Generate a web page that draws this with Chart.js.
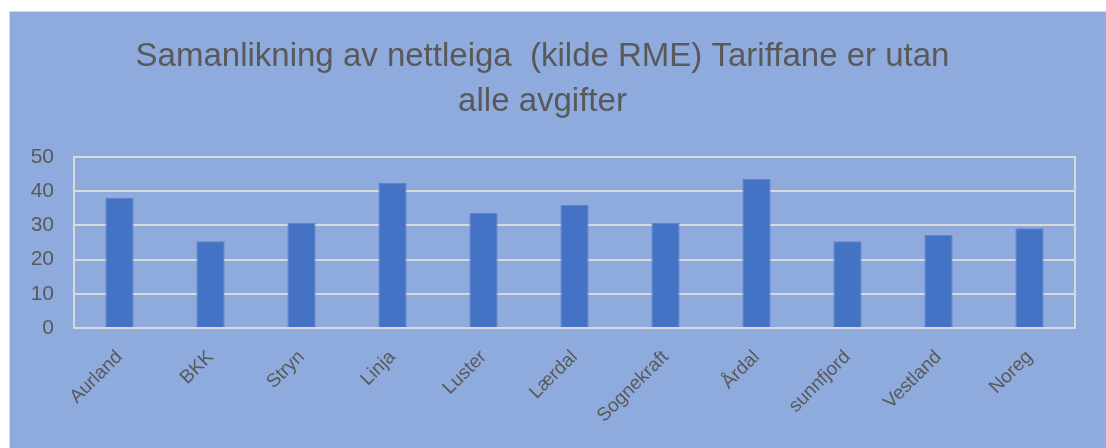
<!DOCTYPE html>
<html>
<head>
<meta charset="utf-8">
<script src="https://cdn.jsdelivr.net/npm/chart.js@4.4.1/dist/chart.umd.min.js"></script>
<style>
    body { margin: 0; background: #ffffff; }
    #wrap {
        position: absolute; left: 9px; top: 11px; width: 1097px; height: 437px;
        background: #8faadc; border-left: 1px solid #d9d9d9; border-top: 1px solid #d9d9d9;
        box-sizing: border-box;
    }
    #box { position: absolute; left: 0; top: 0; width: 1072px; height: 436px; }
</style>
</head>
<body>
<div id="wrap"><div id="box"><canvas id="nettleigeChart"></canvas></div></div>
<script>
const categories = ["Aurland", "BKK", "Stryn", "Linja", "Luster", "Lærdal", "Sognekraft", "Årdal", "sunnfjord", "Vestland", "Noreg"];
const tariffValues = [38.1, 25.4, 30.7, 42.4, 33.6, 36.0, 30.7, 43.6, 25.4, 27.2, 29.2];
const titleLines = ["Samanlikning av nettleiga  (kilde RME) Tariffane er utan", "alle avgifter"];

const FONT = "'Liberation Sans', Arial, sans-serif";
const TEXT = "#595959";
const GRID = "#d9d9d9";

// outline round the plot area
const plotBorder = {
    id: "plotBorder",
    afterDatasetsDraw(chart) {
        const a = chart.chartArea;
        const ctx = chart.ctx;
        ctx.save();
        ctx.strokeStyle = GRID;
        ctx.lineWidth = 2;
        ctx.strokeRect(a.left, a.top, a.right - a.left, a.bottom - a.top);
        ctx.restore();
    }
};

new Chart(document.getElementById("nettleigeChart"), {
    type: "bar",
    data: {
        labels: categories,
        datasets: [{
            label: "Nettleige",
            data: tariffValues,
            backgroundColor: "#4472c4",
            borderColor: "#5b84cc",
            borderWidth: 1,
            categoryPercentage: 1,
            barPercentage: 0.31
        }]
    },
    options: {
        responsive: true,
        maintainAspectRatio: false,
        animation: false,
        layout: { padding: { left: 0, right: 7, top: 0, bottom: 0 } },
        plugins: {
            legend: { display: false },
            tooltip: { enabled: false },
            title: {
                display: true,
                text: titleLines,
                color: TEXT,
                font: { family: FONT, size: 33, weight: "normal", lineHeight: "45px" },
                padding: { top: 22, bottom: 33 }
            }
        },
        scales: {
            x: {
                grid: { display: false },
                border: { display: false },
                ticks: {
                    color: TEXT,
                    font: { family: FONT, size: 19 },
                    minRotation: 45,
                    maxRotation: 45,
                    padding: 10
                },
                afterFit(scale) { scale.height = 120; }
            },
            y: {
                min: 0,
                max: 50,
                grid: { color: GRID, lineWidth: 2, drawTicks: false },
                border: { display: false },
                ticks: {
                    stepSize: 10,
                    color: TEXT,
                    font: { family: FONT, size: 21 },
                    padding: 20
                },
                afterFit(scale) { scale.width = 64; }
            }
        }
    },
    plugins: [plotBorder]
});
</script>
</body>
</html>
